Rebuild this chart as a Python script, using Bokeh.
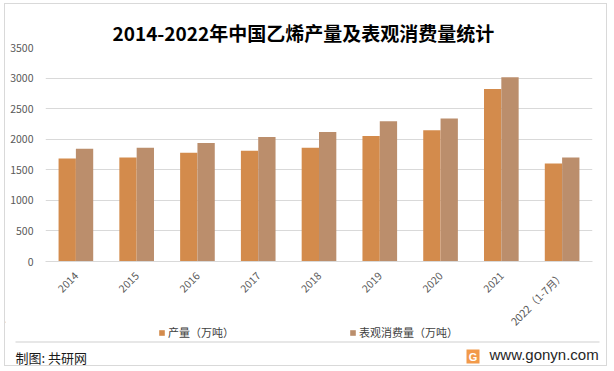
from bokeh.plotting import figure
from bokeh.layouts import column
from bokeh.models import (ColumnDataSource, FactorRange, Range1d, FixedTicker, Title,
                          Legend, LegendItem)
from bokeh.transform import dodge
from bokeh.core.properties import value
from bokeh.embed import file_html
from bokeh.resources import INLINE
import math

# ---- data ----
categories = ["2014", "2015", "2016", "2017", "2018", "2019", "2020", "2021", "2022（1-7月）"]
production = [1683, 1700, 1780, 1812, 1860, 2052, 2148, 2822, 1603]
consumption = [1844, 1860, 1940, 2036, 2116, 2293, 2340, 3014, 1700]
y_ticks = [0, 500, 1000, 1500, 2000, 2500, 3000, 3500]
title_text = "2014-2022年中国乙烯产量及表观消费量统计"
legend_labels = ["产量（万吨）", "表观消费量（万吨）"]
footer_left = "制图: 共研网"
footer_right = "www.gonyn.com"

C_PROD = "#D38B4C"
C_CONS = "#BB8E6C"
GRID = "#d9d9d9"
CJK = "Noto Sans CJK SC"

src = ColumnDataSource(dict(cat=categories, prod=production, cons=consumption))

W = 601
MAIN_H = 332
FOOT_H = 44
OVERLAP = 15

# ---------------- main chart ----------------
p = figure(width=W, height=MAIN_H, x_range=FactorRange(*categories), y_range=Range1d(0, 3500),
           output_backend="svg", toolbar_location=None, tools="",
           min_border_left=40, min_border_right=14, min_border_top=43, min_border_bottom=71)
p.outline_line_color = None
p.background_fill_color = "white"
p.border_fill_color = "white"

p.title = Title(text=title_text, align="left", offset=67, standoff=3,
                text_font=CJK, text_font_size="19px", text_font_style="bold",
                text_color="#000000")

r1 = p.vbar(x=dodge("cat", -0.1425, range=p.x_range), top="prod", width=0.285,
            source=src, fill_color=C_PROD, line_color=None)
r2 = p.vbar(x=dodge("cat", 0.1425, range=p.x_range), top="cons", width=0.285,
            source=src, fill_color=C_CONS, line_color=None)

p.yaxis.ticker = FixedTicker(ticks=y_ticks)
p.yaxis.axis_line_color = None
p.yaxis.major_tick_line_color = None
p.yaxis.minor_tick_line_color = None
p.yaxis.major_tick_out = 0
p.yaxis.major_label_standoff = 12
p.yaxis.major_label_text_font = CJK
p.yaxis.major_label_text_font_size = "10.5px"
p.yaxis.major_label_text_color = "#595959"

p.xaxis.axis_line_color = GRID
p.xaxis.major_tick_line_color = None
p.xaxis.minor_tick_line_color = None
p.xaxis.major_tick_out = 0
p.xaxis.major_label_orientation = math.pi / 4
p.xaxis.major_label_standoff = 12
p.xaxis.major_label_text_font = CJK
p.xaxis.major_label_text_font_size = "10.5px"
p.xaxis.major_label_text_color = "#595959"

p.xgrid.grid_line_color = None
p.ygrid.grid_line_color = GRID
p.ygrid.ticker = FixedTicker(ticks=y_ticks)

# ---------------- footer (legend, separator, credits) ----------------
f = figure(width=W, height=FOOT_H, y_range=Range1d(FOOT_H, 0),
           output_backend="svg", toolbar_location=None, tools="",
           x_axis_type=None, y_axis_type=None,
           min_border=0, min_border_left=0, min_border_right=0, min_border_top=0,
           min_border_bottom=0, margin=(-OVERLAP, 0, 0, 0))
if "frame_align" in f.properties():
    f.frame_align = False
    f.x_range = Range1d(0, W)
    X0 = 0
else:
    f.x_range = Range1d(0, W - 54)
    X0 = -40
f.outline_line_color = None
f.background_fill_alpha = 0
f.border_fill_alpha = 0

# legend swatches bound to series colours (kept outside the visible x range)
d1 = f.vbar(x=[-500], top=[1], width=1, fill_color=C_PROD, line_color=None)
d2 = f.vbar(x=[-500], top=[1], width=1, fill_color=C_CONS, line_color=None)
for r, lab, gx in [(d1, legend_labels[0], 153), (d2, legend_labels[1], 344)]:
    lg = Legend(items=[LegendItem(label=lab, renderers=[r])], location=(gx + X0, 25),
                orientation="horizontal", glyph_width=7, glyph_height=7, label_height=12,
                label_standoff=3, padding=0, margin=0, spacing=0,
                label_text_font=CJK, label_text_font_size="11px", label_text_color="#404040",
                background_fill_alpha=0, border_line_color=None)
    f.add_layout(lg, "center")

f.line(x=[10 + X0, 594 + X0], y=[20.5, 20.5], line_color="#d0d0d0", line_width=1.2)
f.text(x=[10 + X0], y=[36], text=[footer_left], text_align="left", text_baseline="middle",
       text_font=value(CJK), text_font_size="13px", text_color="#1a1a1a")
f.rect(x=[467.5 + X0], y=[35], width=13, height=14, fill_color="#F29A4A", line_color=None)
f.text(x=[467.5 + X0], y=[35], text=["G"], text_align="center", text_baseline="middle",
       text_font=value("Liberation Sans"), text_font_size="11px", text_font_style="bold",
       text_color="white")
f.text(x=[484 + X0], y=[33], text=[footer_right], text_align="left", text_baseline="middle",
       text_font=value("Liberation Sans"), text_font_size="15px", text_color="#262626")

layout = column(p, f, margin=(3, 0, 0, 4),
                styles={"border": "1px solid #d9d9d9"})

open("out.html", "w").write(file_html(layout, INLINE))
